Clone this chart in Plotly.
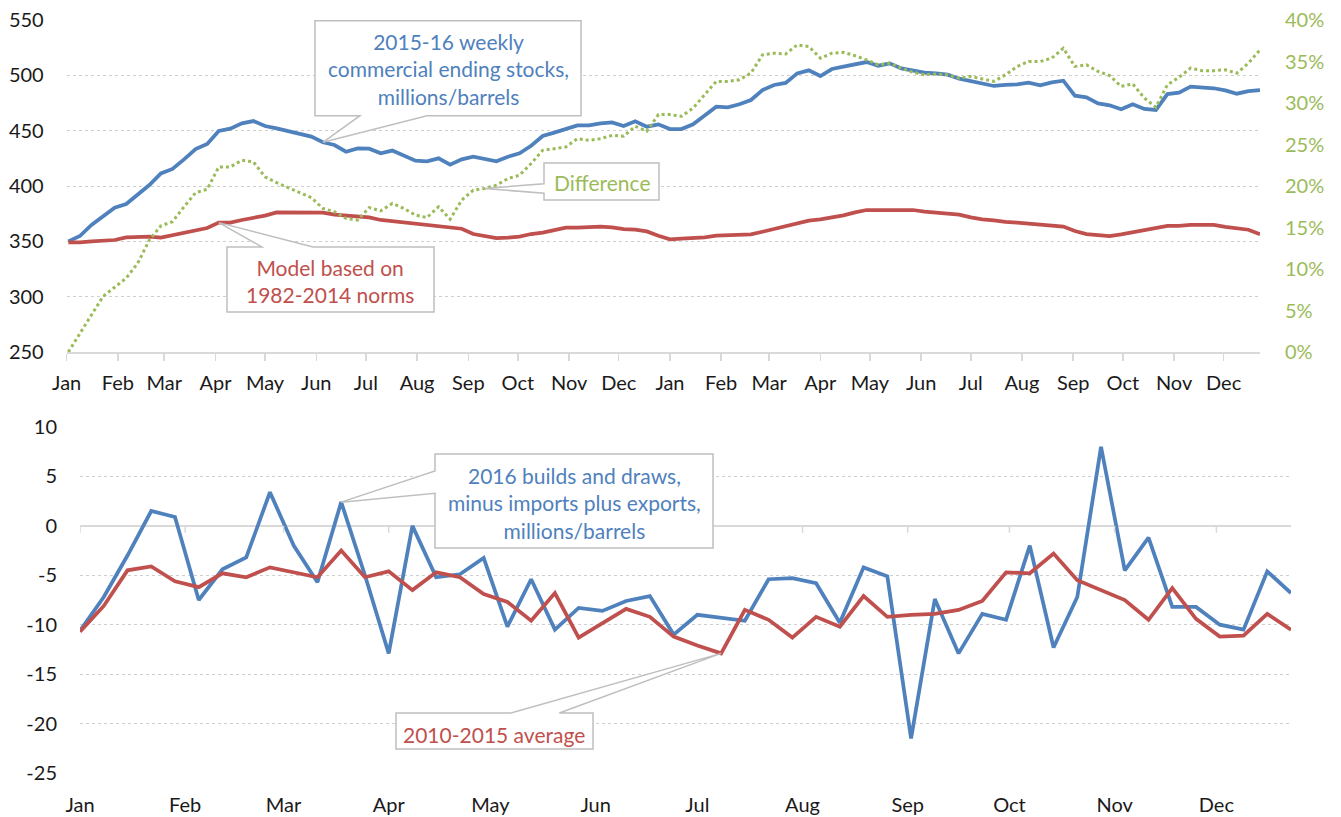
import plotly.graph_objects as go
import pandas as pd

# ---------------- data ----------------
weeks_1516 = pd.date_range("2015-01-02", periods=104, freq="7D")
weeks_2016 = pd.date_range("2016-01-01", periods=52, freq="7D")

commercial_stocks = [
    350, 354.8, 364.8, 372.9, 380.4, 383.7, 391.9, 400.9, 411.4, 415.4,
    424.1, 433.4, 438, 449.7, 451.8, 456.6, 458.7, 454.2, 452.1, 449.7,
    447.6, 444.6, 439.5, 437, 431, 434, 433.7, 429.5, 432, 427.4,
    422.9, 422.3, 425, 419.3,
    424.1, 426.5, 424.7, 422.3, 426.5, 429.5, 436.4, 445.2, 448.2, 451.8,
    454.8, 454.8, 456.6, 457.5, 454.2, 458.4, 453.6, 455.7, 451.5, 451.5,
    455.7, 463.6, 471.7, 471.1, 473.8, 477.7, 486.7, 491.3, 493.1, 501.8,
    504.5, 499.4, 505.7, 507.8, 509.9, 512, 508.7,
    510.8, 506.3, 504.2, 502.4, 501.8, 500.6, 497, 494.6, 492.2, 490.4,
    491.3, 491.9, 493.4, 491, 493.7, 495.2, 481.6, 480.1, 474.7, 472.9,
    469.3, 473.8, 469.6, 468.7, 483.1, 484.3, 489.8, 489.2, 488.3, 486.4,
    483.4, 485.8, 486.7,
]
model_norms = [
    349.1, 349.1, 350, 350.9, 351.2, 353.6, 353.6, 354.2, 353.3, 355.4,
    357.8, 359.9, 362, 366.9, 366.9, 369.3, 371.4, 373.2, 376.2, 376.2,
    376.2, 376.2, 375.9, 374.1, 373.5, 372.9, 371.7, 369.3, 368.1, 367.2,
    365.4, 364.2, 363, 362,
    361.4, 356.6, 354.8, 353, 353.3, 354.2, 356.6, 357.8, 360.2, 362.3,
    362.3, 362.9, 363.3, 362.7, 361.1, 360.5, 359, 355.1, 351.8, 352.4,
    353, 353.6, 355.1, 355.4, 356, 356.3, 358.7, 361.4, 363.3, 366,
    368.7, 369.9, 371.4, 373.5, 376.2, 378.3, 378.3,
    378.3, 378.3, 378.3, 376.8, 375.9, 375.3, 374.1, 371.7, 369.9, 369,
    367.5, 366.9, 366, 365.1, 364.8, 363.3, 359.3, 356.6, 355.7, 354.8,
    356.3, 358.1, 359.9, 362, 363.9, 363.9, 364.8, 364.8, 364.8, 363,
    362, 360.5, 356.3,
]
difference_pct = [
    0, 2.2, 4.5, 6.7, 7.8, 8.9, 10.7, 13.5, 15.2, 15.7,
    17.5, 19.2, 19.6, 22.3, 22.3, 23.1, 22.9, 21.1, 20.4, 19.8,
    19.2, 18.6, 17.3, 16.9, 16.1, 15.9, 17.4, 17, 17.9, 17.3,
    16.5, 16.2, 17.5, 16,
    18.3, 19.5, 19.7, 20.1, 20.9, 21.3, 22.7, 24.3, 24.5, 24.7,
    25.7, 25.5, 25.7, 26.1, 26, 27.2, 26.6, 28.6, 28.6, 28.4,
    29.4, 31, 32.6, 32.6, 32.8, 33.6, 35.8, 36, 35.9, 37,
    36.8, 35.4, 36, 36.1, 35.7, 35.2, 34.6,
    34.8, 34.2, 33.7, 33.4, 33.5, 33.4, 33, 33.2, 32.9, 32.6,
    33.4, 34.4, 35, 35, 35.4, 36.6, 34.4, 34.6, 33.8, 33.3,
    32, 32.3, 30.6, 29.5, 32.2, 33.1, 34.2, 33.9, 33.9, 34,
    33.6, 34.8, 36.4,
]
builds_draws_2016 = [
    -10.6, -7.2, -3, 1.5, 0.9, -7.5, -4.4, -3.2, 3.4, -2,
    -5.7, 2.4, -5, -12.9, 0, -5.2,
    -4.9, -3.25, -10.2, -5.4, -10.5, -8.3, -8.6, -7.6, -7.1, -11,
    -9, -9.3, -9.6, -5.4, -5.3, -5.8, -9.8, -4.2, -5.1,
    -21.5, -7.4, -12.9, -8.9, -9.5, -2, -12.3, -7.2, 8, -4.5,
    -1.2, -8.2, -8.2, -10, -10.5, -4.6, -6.8,
]
avg_2010_2015 = [
    -10.7, -8.1, -4.5, -4.1, -5.6, -6.2, -4.8, -5.2, -4.2, -4.7,
    -5.2, -2.5, -5.2, -4.6, -6.5, -4.7,
    -5.2, -6.9, -7.7, -9.6, -6.8, -11.3, -9.9, -8.4, -9.2, -11.2,
    -12.1, -12.9, -8.5, -9.5, -11.3, -9.2, -10.2, -7.1, -9.2,
    -9, -8.9, -8.5, -7.6, -4.7, -4.8, -2.8, -5.5, -6.5, -7.5,
    -9.5, -6.3, -9.4, -11.2, -11.1, -8.9, -10.5,
]
month_ticks_2016 = pd.date_range("2016-01-01", "2016-12-01", freq="MS")
bottom_y_ticks = [10, 5, 0, -5, -10, -15, -20, -25]
bottom_y_labels = ["10", "5", "0", "-5", "-10", "-15", "-20", "-25"]

label_stocks = "2015-16 weekly<br>commercial ending stocks,<br>millions/barrels"
label_model = "Model based on<br>1982-2014 norms"
label_diff = "Difference"
label_builds = "2016 builds and draws,<br>minus imports plus exports,<br>millions/barrels"
label_avg = "2010-2015 average"

# ---------------- style ----------------
BLUE, RED, GREEN = "#4F81BD", "#C0504D", "#9BBB59"
GRID, AXIS, BORDER, TEXT = "#CFCFCF", "#D9D9D9", "#BFBFBF", "#1A1A1A"
FONT = "Lato"
FS = 20      # tick labels
FS_C = 21    # callout text

W, H = 1341, 817
TOP_PX = (66.7, 20, 1260, 352)   # left, top, right, bottom (pixels)
BOT_PX = (80, 427, 1291, 773)
TOP_X = ["2015-01-01", "2016-12-23"]
BOT_X = ["2016-01-01", "2016-12-23"]
TOP_Y, TOP_Y2, BOT_Y = (250, 550), (0, 40), (-25, 10)


def xdom(b):
    return [b[0] / W, b[2] / W]


def ydom(b):
    return [1 - b[3] / H, 1 - b[1] / H]


def ms(ts):
    return pd.Timestamp(ts).value // 10**6


def to_data(px, py, box, xr, yr):
    t0, t1 = ms(xr[0]), ms(xr[1])
    xv = t0 + (px - box[0]) / (box[2] - box[0]) * (t1 - t0)
    yv = yr[1] - (py - box[1]) / (box[3] - box[1]) * (yr[1] - yr[0])
    return xv, yv


def callout_path(rect, side, base, tip, box, xr, yr):
    L, T, R, B = rect
    b1, b2 = base
    if side == "bottom":
        pts = [(L, T), (R, T), (R, B), (b2, B), None, (b1, B), (L, B)]
    elif side == "top":
        pts = [(L, T), (b1, T), None, (b2, T), (R, T), (R, B), (L, B)]
    else:  # left
        pts = [(L, T), (R, T), (R, B), (L, B), (L, b2), None, (L, b1)]
    out = []
    for p in pts:
        if p is None:
            out.append((ms(tip[0]), tip[1]))
        else:
            out.append(to_data(p[0], p[1], box, xr, yr))
    return "M " + " L ".join(f"{x:.0f},{y:.4f}" for x, y in out) + " Z"


fig = go.Figure()
fig.add_trace(go.Scatter(x=weeks_1516, y=commercial_stocks, mode="lines",
                         line=dict(color=BLUE, width=3.75), xaxis="x", yaxis="y"))
fig.add_trace(go.Scatter(x=weeks_1516, y=model_norms, mode="lines",
                         line=dict(color=RED, width=3.75), xaxis="x", yaxis="y"))
fig.add_trace(go.Scatter(x=weeks_1516, y=difference_pct, mode="lines",
                         line=dict(color=GREEN, width=3, dash="dot"), xaxis="x", yaxis="y2"))
fig.add_trace(go.Scatter(x=weeks_2016, y=builds_draws_2016, mode="lines",
                         line=dict(color=BLUE, width=3.75), xaxis="x2", yaxis="y3"))
fig.add_trace(go.Scatter(x=weeks_2016, y=avg_2010_2015, mode="lines",
                         line=dict(color=RED, width=3.75), xaxis="x2", yaxis="y3"))

tickfont = dict(family=FONT, size=FS, color=TEXT)
fig.update_layout(
    width=W, height=H, margin=dict(l=0, r=0, t=0, b=0),
    template="none", paper_bgcolor="white", plot_bgcolor="white",
    showlegend=False, hovermode=False, font=dict(family=FONT, size=FS, color=TEXT),
    xaxis=dict(domain=xdom(TOP_PX), anchor="y", type="date", range=TOP_X,
               dtick="M1", tick0="2015-01-01", tickformat="%b", tickangle=0,
               ticks="outside", ticklen=7, tickwidth=1.5, tickcolor=AXIS,
               showline=True, linecolor=AXIS, linewidth=1.5,
               showgrid=False, zeroline=False, tickfont=tickfont,
               ticklabelstandoff=5, automargin=False),
    yaxis=dict(domain=ydom(TOP_PX), anchor="x", range=list(TOP_Y), dtick=50, tick0=250,
               showgrid=True, gridcolor=GRID, griddash="dot", gridwidth=1,
               showline=False, zeroline=False, ticks="", tickfont=tickfont,
               ticklabelstandoff=22, automargin=False),
    yaxis2=dict(overlaying="y", side="right", anchor="x", range=list(TOP_Y2), dtick=5,
                ticksuffix="%", showgrid=False, zeroline=False, ticks="",
                tickfont=dict(family=FONT, size=FS, color=GREEN),
                ticklabelstandoff=24, automargin=False),
    xaxis2=dict(domain=xdom(BOT_PX), anchor="y3", type="date", range=BOT_X,
                dtick="M1", tick0="2016-01-01", tickformat="%b", tickangle=0,
                ticks="", showline=False, showgrid=False, zeroline=False,
                tickfont=tickfont, ticklabelstandoff=18, automargin=False),
    yaxis3=dict(domain=ydom(BOT_PX), anchor="x2", range=list(BOT_Y),
                tickmode="array", tickvals=bottom_y_ticks, ticktext=bottom_y_labels,
                showgrid=True, gridcolor=GRID, griddash="dot", gridwidth=1,
                zeroline=True, zerolinecolor=AXIS, zerolinewidth=1.5,
                showline=False, ticks="", tickfont=tickfont,
                ticklabelstandoff=22, automargin=False),
)

# tick marks on the zero line of the lower chart
for m in month_ticks_2016:
    fig.add_shape(type="line", xref="x2", yref="y3", x0=m, x1=m, y0=0, y1=-0.7,
                  line=dict(color=AXIS, width=1.5))

callouts = [
    # rect(px), side, base(px), tip(data), box, xr, yr, xref, yref, text, color, text center(px)
    ((315, 20.7, 581, 115.7), "bottom", (360, 427), (weeks_1516[22], commercial_stocks[22]),
     TOP_PX, TOP_X, TOP_Y, "x", "y", label_stocks, BLUE, (448, 69)),
    ((227, 247, 434, 312), "top", (262, 313), (weeks_1516[13], model_norms[13]),
     TOP_PX, TOP_X, TOP_Y, "x", "y", label_model, RED, (330, 281)),
    ((544, 163, 659, 200), "left", (183.7, 193.3), (weeks_1516[36], difference_pct[36]),
     TOP_PX, TOP_X, TOP_Y2, "x", "y2", label_diff, GREEN, (602, 182)),
    ((435, 454, 713, 548), "left", (471, 493.3), (weeks_2016[11], builds_draws_2016[11]),
     BOT_PX, BOT_X, BOT_Y, "x2", "y3", label_builds, BLUE, (574, 503)),
    ((396, 713, 593, 749), "top", (511, 559.3), (weeks_2016[27], avg_2010_2015[27]),
     BOT_PX, BOT_X, BOT_Y, "x2", "y3", label_avg, RED, (494, 734)),
]
for rect, side, base, tip, box, xr, yr, xref, yref, text, color, c in callouts:
    fig.add_shape(type="path", xref=xref, yref=yref,
                  path=callout_path(rect, side, base, tip, box, xr, yr),
                  fillcolor="white", line=dict(color=BORDER, width=1.5), layer="above")
    fig.add_annotation(x=c[0] / W, y=1 - c[1] / H, xref="paper", yref="paper",
                       text=text, showarrow=False, xanchor="center", yanchor="middle",
                       align="center", font=dict(family=FONT, size=FS_C, color=color))

fig.write_html("out.html", config={"displayModeBar": False, "staticPlot": True},
               post_script="document.body.style.margin='0';document.body.style.overflow='hidden';")
